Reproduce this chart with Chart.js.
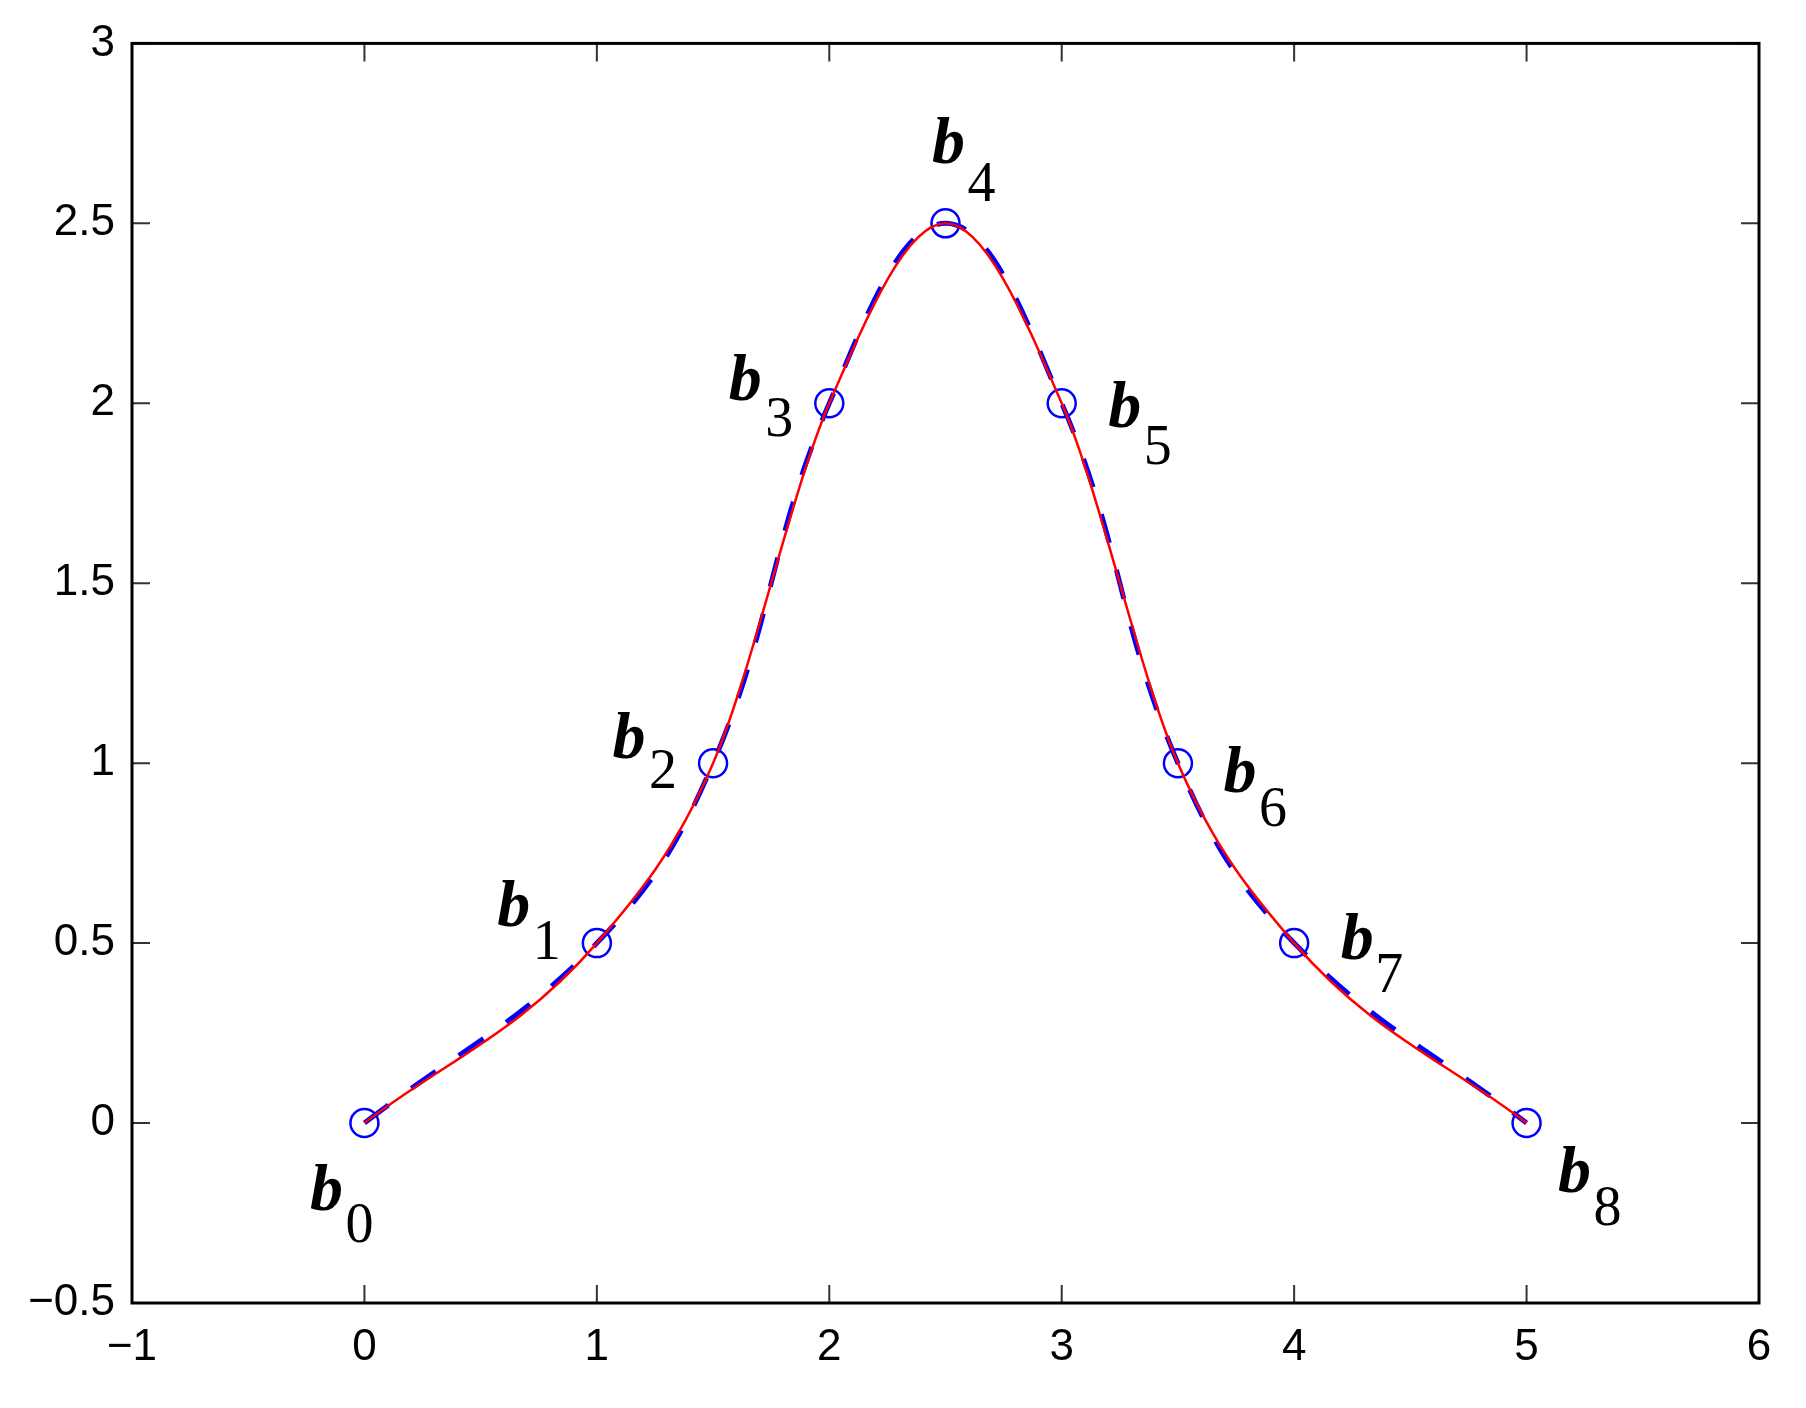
<!DOCTYPE html>
<html>
<head>
<meta charset="utf-8">
<script src="https://cdn.jsdelivr.net/npm/chart.js@4"></script>
<style>
  body { margin: 0; background: #fff; }
</style>
</head>
<body>
<canvas id="grafica" width="1806" height="1408"></canvas>
<script>
// puntos de control b0..b8
var puntosX = [0, 1, 1.5, 2, 2.5, 3, 3.5, 4, 5];
var puntosY = [0, 0.5, 1, 2, 2.5, 2, 1, 0.5, 0];
var etiquetas = ['0', '1', '2', '3', '4', '5', '6', '7', '8'];

// ticks de los ejes
var ticksX = [-1, 0, 1, 2, 3, 4, 5, 6];
var ticksY = [-0.5, 0, 0.5, 1, 1.5, 2, 2.5, 3];

// desplazamiento (en pixeles) de cada etiqueta b_i respecto a su punto
var despB = [[-38, 87], [-83, -17], [-84, -5], [-84, -3], [3, -60], [63, 24], [62, 29], [63, 16], [48, 69]];
var despSub = [[-5, 119], [-50, 16], [-50, 25], [-50, 33], [36, -22], [96, 61], [95, 63], [95, 49], [81, 102]];

var puntos = puntosX.map(function (x, i) { return { x: x, y: puntosY[i] }; });

function menos(v) {
    return (v < 0 ? '\u2212' : '') + Math.abs(v);
}

// marco, ticks hacia dentro y etiquetas b_i
var marco = {
    id: 'marco',
    afterDatasetsDraw: function (chart) {
        var ctx = chart.ctx;
        var a = chart.chartArea;
        var sx = chart.scales.x, sy = chart.scales.y;
        ctx.save();
        ctx.strokeStyle = '#333';
        ctx.lineWidth = 2;
        ticksX.forEach(function (v) {
            var px = sx.getPixelForValue(v);
            ctx.beginPath();
            ctx.moveTo(px, a.bottom); ctx.lineTo(px, a.bottom - 18);
            ctx.moveTo(px, a.top); ctx.lineTo(px, a.top + 18);
            ctx.stroke();
        });
        ticksY.forEach(function (v) {
            var py = sy.getPixelForValue(v);
            ctx.beginPath();
            ctx.moveTo(a.left, py); ctx.lineTo(a.left + 18, py);
            ctx.moveTo(a.right, py); ctx.lineTo(a.right - 18, py);
            ctx.stroke();
        });
        ctx.strokeStyle = '#000';
        ctx.lineWidth = 3;
        ctx.strokeRect(a.left, a.top, a.right - a.left, a.bottom - a.top);

        ctx.fillStyle = '#000';
        ctx.textAlign = 'center';
        ctx.textBaseline = 'alphabetic';
        puntos.forEach(function (p, i) {
            var px = sx.getPixelForValue(p.x), py = sy.getPixelForValue(p.y);
            ctx.font = 'italic bold 66px "Liberation Serif"';
            ctx.fillText('b', px + despB[i][0], py + despB[i][1]);
            ctx.font = '56px "Liberation Serif"';
            ctx.fillText(etiquetas[i], px + despSub[i][0], py + despSub[i][1]);
        });
        ctx.restore();
    }
};

var ctx = document.getElementById('grafica').getContext('2d');
var chart = new Chart(ctx, {
    type: 'line',
    data: {
        datasets: [
            {
                // curva roja continua
                data: puntos,
                borderColor: '#ff0000',
                borderWidth: 2.5,
                cubicInterpolationMode: 'monotone',
                pointRadius: 0,
                fill: false
            },
            {
                // circulos azules
                data: puntos,
                showLine: false,
                pointRadius: 14,
                pointBorderWidth: 2.5,
                pointBorderColor: '#0000ff',
                pointBackgroundColor: 'rgba(0,0,0,0)'
            },
            {
                // curva azul discontinua
                data: puntos,
                borderColor: '#0000ff',
                borderWidth: 5,
                borderDash: [30, 28],
                tension: 0.4,
                pointRadius: 0,
                fill: false
            }
        ]
    },
    options: {
        responsive: false,
        animation: false,
        events: [],
        layout: { padding: { left: 0, top: 40, right: 47, bottom: 0 } },
        plugins: { legend: { display: false }, tooltip: { enabled: false } },
        scales: {
            x: {
                type: 'linear',
                min: -1, max: 6,
                afterBuildTicks: function (s) { s.ticks = ticksX.map(function (v) { return { value: v }; }); },
                afterFit: function (s) { s.height = 105; },
                grid: { display: false, drawTicks: false },
                border: { display: false },
                ticks: {
                    color: '#000',
                    font: { family: '"Liberation Sans"', size: 44 },
                    padding: 18,
                    maxRotation: 0,
                    callback: menos
                }
            },
            y: {
                type: 'linear',
                min: -0.5, max: 3,
                afterBuildTicks: function (s) { s.ticks = ticksY.map(function (v) { return { value: v }; }); },
                afterFit: function (s) { s.width = 132; },
                grid: { display: false, drawTicks: false },
                border: { display: false },
                ticks: {
                    color: '#000',
                    font: { family: '"Liberation Sans"', size: 44 },
                    padding: 17,
                    callback: menos
                }
            }
        }
    },
    plugins: [marco]
});
</script>
</body>
</html>
